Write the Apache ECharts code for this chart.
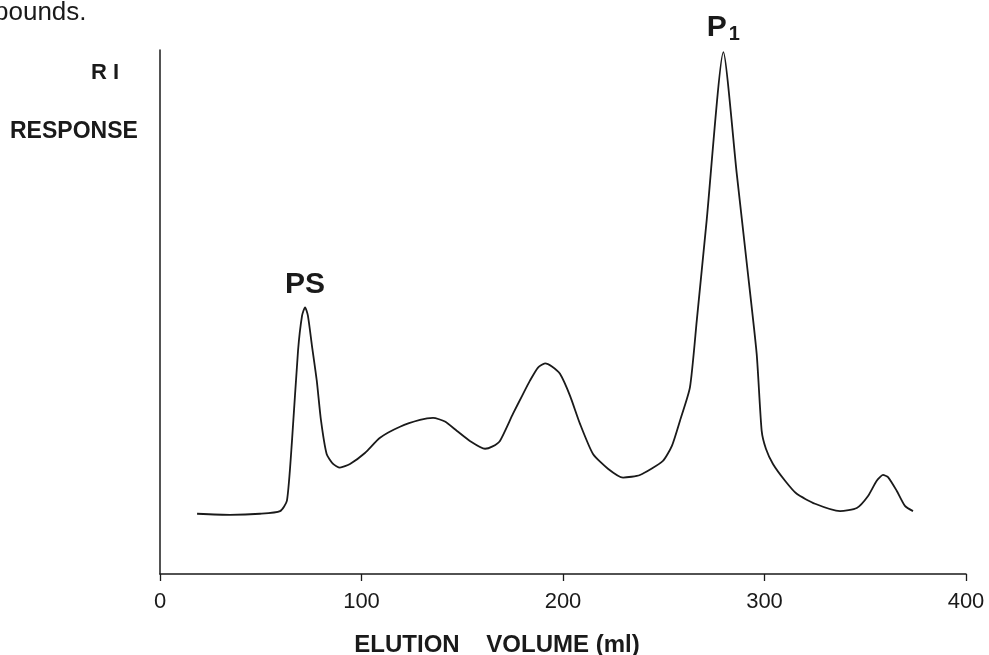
<!DOCTYPE html>
<html>
<head>
<meta charset="utf-8">
<script src="https://cdn.jsdelivr.net/npm/echarts@6/dist/echarts.min.js"></script>
<style>
  html, body { margin: 0; padding: 0; background: #ffffff; }
  #chart { width: 989px; height: 655px; }
</style>
</head>
<body>
<div id="chart"></div>
<script>
// Elution volume (ml) and refractive index detector response (relative units)
const elutionVolume = [
  18.4, 34.7, 49.6, 59.6, 63.0, 65.5, 68.5, 70.5, 72.0, 73.4, 75.4, 77.8, 79.9,
  82.7, 85.9, 89.3, 94.3, 101.7, 109.2, 119.1, 129.0, 135.5, 141.4, 147.4, 153.8,
  161.3, 164.8, 168.7, 175.2, 179.7, 183.6, 187.6, 191.1, 194.5, 198.5, 203.5,
  208.4, 214.9, 222.3, 229.8, 238.2, 249.6, 254.1, 258.1, 263.0, 266.4, 271.3,
  279.6, 286.2, 291.2, 296.1, 298.6, 300.7, 304.2, 310.2, 316.0,
  325.1, 337.5, 345.8, 351.4, 355.7, 358.8, 361.3, 365.6, 369.7, 373.7
];
const riResponse = [
  11.5, 11.3, 11.5, 12.0, 14.0, 25.4, 42.6, 49.3, 50.9, 49.3, 43.6, 36.9, 29.3,
  22.9, 21.0, 20.3, 21.0, 23.1, 26.0, 28.1, 29.4, 29.8, 29.1, 27.3, 25.4,
  23.9, 24.3, 25.4, 30.6, 34.0, 36.9, 39.4, 40.2, 39.6, 38.2, 34.0,
  28.7, 22.9, 20.1, 18.4, 18.9, 21.6, 24.5, 29.3, 35.6, 48.4, 67.5,
  99.6, 76.5, 59.3, 42.1, 27.3, 23.9, 21.0, 17.8, 15.3,
  13.4, 12.0, 12.6, 14.9, 17.8, 18.9, 18.5, 15.9, 13.0, 12.0
];

// Axis ticks and peak annotations
const xTicks = [0, 100, 200, 300, 400];
const peakNames = ['PS', 'P1'];
const peakVolumes = [72.0, 279.6];
const peakHeights = [50.9, 99.6];

const FONT = '"Liberation Sans", Arial, Helvetica, sans-serif';
const INK = '#1a1a1a';

const chart = echarts.init(document.getElementById('chart'), null, { renderer: 'canvas' });

const curve = elutionVolume.map((v, i) => [v, riResponse[i]]);

chart.setOption({
  animation: false,
  backgroundColor: '#ffffff',
  grid: {
    left: 160, right: 23, top: 50, bottom: 81,
    containLabel: false,
    outerBoundsMode: 'none'
  },
  xAxis: {
    type: 'value',
    min: xTicks[0],
    max: xTicks[xTicks.length - 1],
    interval: 100,
    axisLine: { show: true, lineStyle: { color: INK, width: 1.5 } },
    axisTick: { show: true, length: 7, lineStyle: { color: INK, width: 1.3 } },
    axisLabel: {
      show: true, color: INK, fontFamily: FONT, fontSize: 22, margin: 17,
      formatter: v => xTicks.includes(v) ? String(v) : ''
    },
    splitLine: { show: false },
    name: 'ELUTION    VOLUME (ml)',
    nameLocation: 'middle',
    nameGap: 59,
    nameTextStyle: {
      color: INK, fontFamily: FONT, fontSize: 24, fontWeight: 'bold',
      padding: [0, 132, 0, 0]
    }
  },
  yAxis: {
    type: 'value',
    min: 0,
    max: 100,
    axisLine: { show: true, lineStyle: { color: INK, width: 1.5 } },
    axisTick: { show: false },
    axisLabel: { show: false },
    splitLine: { show: false }
  },
  series: [{
    type: 'line',
    data: curve,
    showSymbol: false,
    smooth: 0.2,
    lineStyle: { color: INK, width: 1.8 },
    markPoint: {
      symbol: 'circle',
      symbolSize: 0,
      label: {
        show: true,
        position: 'top',
        distance: 8,
        color: INK,
        fontFamily: FONT,
        fontWeight: 'bold',
        formatter: p => p.name === 'P1' ? '{b|P}{s|1}' : '{b|' + p.name + '}',
        rich: {
          b: { fontFamily: FONT, fontWeight: 'bold', fontSize: 30, color: INK },
          s: { fontFamily: FONT, fontWeight: 'bold', fontSize: 20, color: INK, verticalAlign: 'bottom', padding: [12, 0, 0, 2] }
        }
      },
      data: peakNames.map((n, i) => ({ name: n, coord: [peakVolumes[i], peakHeights[i]] }))
    }
  }],
  graphic: [
    { type: 'text', left: 91, top: 62, style: { text: 'R I', font: 'bold 22px ' + FONT, fill: INK } },
    { type: 'text', left: 10, top: 120, style: { text: 'RESPONSE', font: 'bold 23px ' + FONT, fill: INK } },
    { type: 'text', left: -6, top: 0, style: { text: 'pounds.', font: '26px ' + FONT, fill: INK } }
  ]
});
</script>
</body>
</html>
